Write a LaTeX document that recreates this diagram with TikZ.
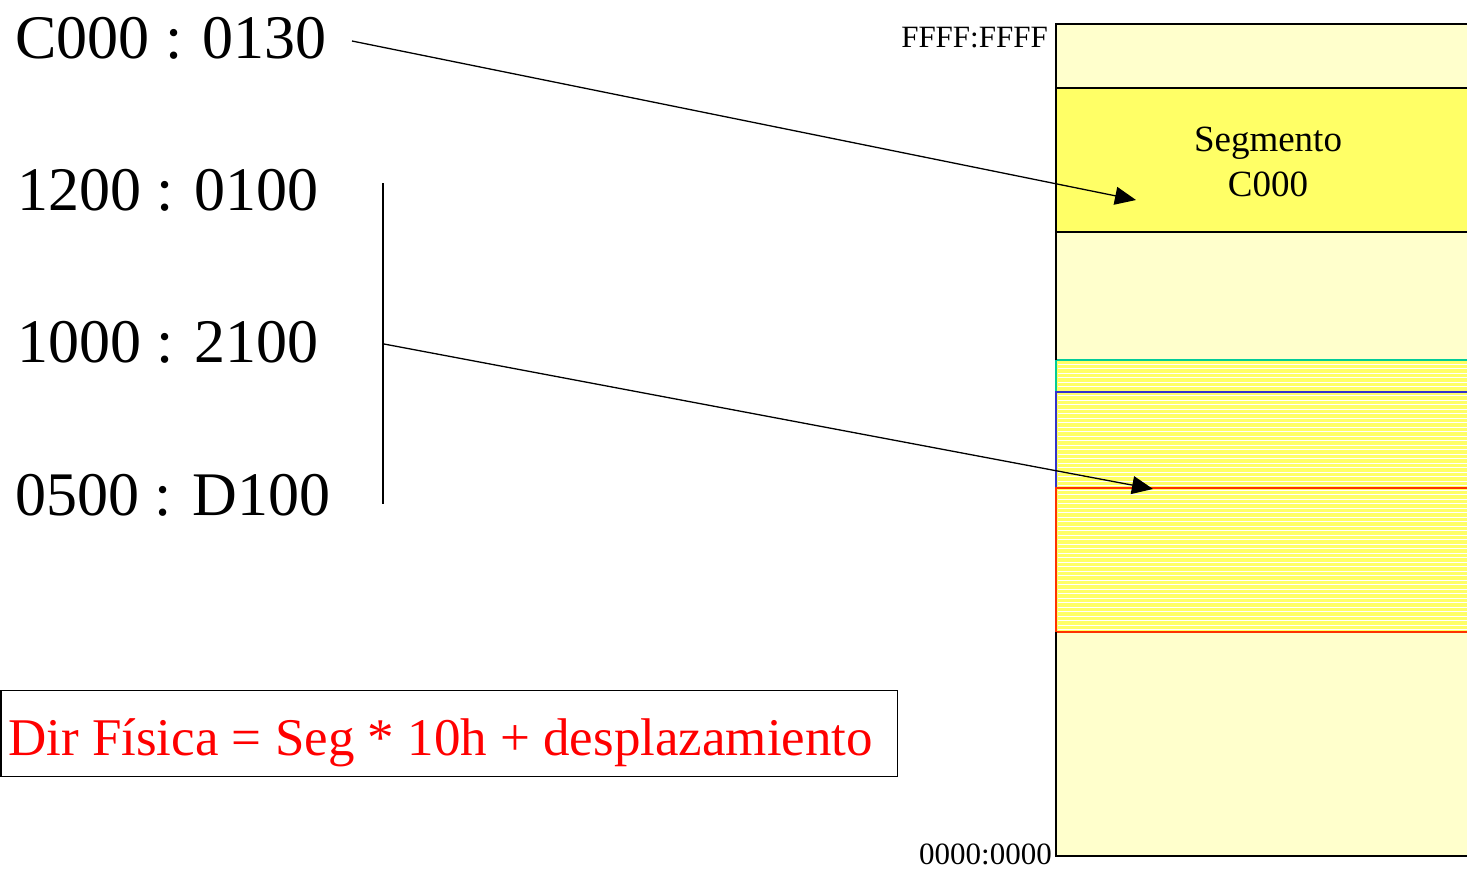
\documentclass[tikz,border=0pt]{standalone}
\usepackage{fontspec}
\setmainfont{Liberation Serif}
\usetikzlibrary{arrows.meta}
\definecolor{memback}{HTML}{FFFFCC}
\definecolor{segyellow}{HTML}{FFFF66}
\definecolor{segred}{HTML}{FF3300}
\definecolor{segblue}{HTML}{3333CC}
\definecolor{seggreen}{HTML}{00CC99}
\tikzset{
  addr/.style={anchor=base west, inner sep=0pt, font=\fontsize{62}{68}\selectfont},
  memlabel/.style={inner sep=0pt, font=\fontsize{31}{34}\selectfont},
  ptr/.style={line width=1.3pt, -{Triangle[length=21pt,width=18pt]}},
  memline/.style={line width=1.5pt, draw=black},
}
\begin{document}
\begin{tikzpicture}[x=1pt,y=-1pt]
\useasboundingbox (0,0) rectangle (1467,868);
% memory column
\fill[memback] (1056,24) rectangle (1480,856);
\fill[segyellow] (1056,88) rectangle (1480,232);
\draw[memline] (1480,88) -- (1056,88) -- (1056,232) -- (1480,232);
% striped overlapping segments
\fill[segyellow] (1056,360) rectangle (1480,632);
\foreach \yy in {364,368.5,...,630} {
  \draw[white, line width=0.6pt] (1058,\yy) -- (1480,\yy);
}
\draw[seggreen, line width=1.5pt] (1480,360) -- (1056,360) -- (1056,392);
\draw[segblue, line width=1.5pt] (1480,392) -- (1056,392) -- (1056,488);
\draw[segred, line width=1.5pt] (1480,488) -- (1056,488) -- (1056,632) -- (1480,632);
\draw[memline] (1056,360) -- (1056,24) -- (1480,24);
\draw[memline] (1056,632) -- (1056,856) -- (1480,856);
\node[memlabel, anchor=base east] (ftop) at (1048,47) {FFFF:FFFF};
\node[memlabel, anchor=base east] (fbot) at (1052,864) {0000:0000};
\node[align=center, font=\fontsize{37}{45}\selectfont, inner sep=0pt] (seg) at (1268,162) {Segmento\\C000};
% address labels
\node[addr] (a0) at (15,58) {C000 : 0130};
\node[addr] (a1) at (17,210) {1200 : 0100};
\node[addr] (a2) at (17,362) {1000 : 2100};
\node[addr] (a3) at (15,515) {0500 : D100};
\coordinate (btop) at (383,183);
\coordinate (bbot) at (383,504);
\coordinate (bmid) at (384,344);
\draw[line width=1.3pt] (btop) -- (bbot);
\coordinate (p0) at (352,41);
\coordinate (t0) at (1136,200);
\coordinate (t1) at (1153,489);
\draw[ptr] (p0) -- (t0);
\draw[ptr] (bmid) -- (t1);
% formula
\node[draw=black, line width=1.3pt, minimum width=896pt, minimum height=86pt, inner sep=0pt, anchor=north west] (fbox) at (0.5,690) {};
\node[text=red, anchor=base west, inner sep=0pt, font=\fontsize{53}{60}\selectfont] (form) at (8,755) {Dir Física = Seg * 10h + desplazamiento};
\end{tikzpicture}
\end{document}
